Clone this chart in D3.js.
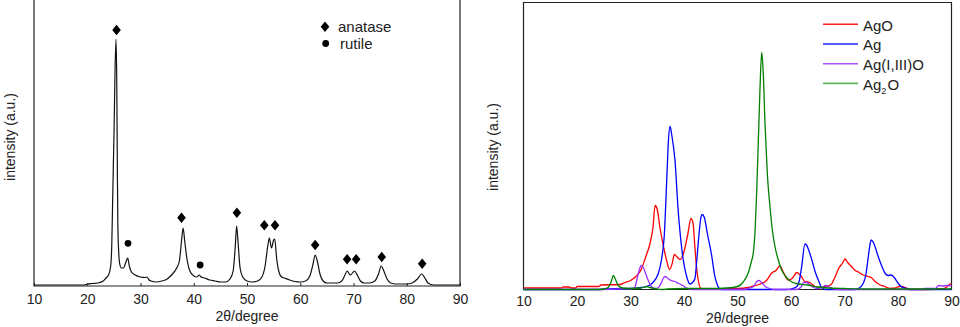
<!DOCTYPE html>
<html><head><meta charset="utf-8">
<script src="https://cdn.jsdelivr.net/npm/d3@7"></script>
<style>body{margin:0;background:#fff;} text{font-family:"Liberation Sans",Arial,sans-serif;fill:#222;}</style>
</head><body><svg id="c" width="960" height="327"></svg>
<script>
// ---------- data ----------
const xTicks = [10, 20, 30, 40, 50, 60, 70, 80, 90];
const xLabel = "2θ/degree";
const yLabel = "intensity (a.u.)";

// Left panel: TiO2 pattern [2θ, counts]
const tio2 = [[10,10],[15,10],[19.5,10],[20,20],[21,25],[22,30],[23,50],[23.5,80],[24,110],[24.4,200],[24.6,400],[24.75,800],[24.9,1200],[25.05,1600],[25.2,2100],[25.4,2467],[25.55,2000],[25.65,1200],[25.75,600],[25.9,350],[26.1,220],[26.4,180],[26.8,180],[27.2,230],[27.6,280],[27.9,200],[28.3,140],[29,110],[30,90],[30.8,85],[31.2,90],[31.6,60],[32,50],[33,40],[34,50],[35,70],[36,120],[36.8,180],[37.3,250],[37.7,450],[38,580],[38.3,450],[38.7,280],[39.2,160],[40,100],[40.6,90],[41,110],[41.4,90],[42,80],[43,60],[44,50],[45,40],[46,40],[46.8,70],[47.4,150],[47.8,400],[48.05,600],[48.3,450],[48.7,180],[49.2,90],[50,50],[51,40],[52,50],[52.8,90],[53.4,200],[53.9,400],[54.2,480],[54.6,380],[55,460],[55.2,470],[55.6,260],[56,140],[56.5,90],[57,80],[58,60],[59,45],[60,40],[61,50],[61.8,100],[62.4,220],[62.8,310],[63.2,250],[63.7,120],[64.3,50],[65,30],[66,30],[67,30],[67.8,50],[68.4,110],[68.8,150],[69.4,110],[70.2,150],[70.7,110],[71.3,50],[72,30],[73,30],[74,50],[74.7,120],[75.2,200],[75.7,150],[76.3,70],[77,30],[78,20],[80,20],[81,30],[82,70],[82.8,120],[83.4,80],[84,30],[85,10],[90,10]];
const anataseMarks = [[25.5,2560],[37.7,683],[48.1,733],[53.25,607],[55.26,607],[62.8,410],[68.8,267],[70.5,267],[75.3,290],[82.9,223]];
const rutileMarks = [[27.65,427],[41.2,210]];
const leftLegend = ["anatase", "rutile"];

// Right panel: silver oxide phases [2θ, counts]
const agO = [[10,15],[17,15],[17.5,25],[18.5,25],[19,15],[19.8,15],[20,30],[24,30],[24.5,45],[28,50],[29,70],[30,90],[31,130],[32,200],[32.8,320],[33.6,450],[34.2,620],[34.6,840],[35,800],[35.5,620],[36.2,420],[36.8,280],[37.3,200],[37.8,260],[38.2,350],[38.8,320],[39.3,300],[40,380],[40.7,550],[41.3,710],[41.7,660],[42,450],[42.3,250],[42.7,80],[43.2,10],[44,5],[50,10],[52,20],[52.7,30],[54,50],[55.5,95],[56.4,165],[57.2,190],[57.9,235],[58.6,170],[59.5,95],[60.2,110],[61.1,170],[61.8,140],[62.6,80],[63.5,70],[64.5,30],[65.5,20],[66.5,30],[67.5,50],[68.2,120],[69,220],[69.6,260],[70.1,305],[70.6,270],[71.3,230],[72,190],[72.6,175],[73.3,150],[74.4,130],[75,120],[75.7,80],[76.5,50],[77.5,30],[78.5,10],[79.5,15],[80.3,30],[80.7,30],[81.3,20],[81.8,10],[82.5,0],[88,5],[89,20],[89.6,50],[90,60]];
const ag = [[10,0],[24,0],[25,5],[30,10],[32,20],[33,30],[34,60],[35.2,160],[35.8,300],[36.3,530],[36.8,1130],[37.1,1500],[37.4,1630],[37.7,1550],[38.3,1300],[38.9,800],[39.6,400],[40.5,130],[41.1,55],[41.6,70],[42.05,110],[42.4,300],[42.8,550],[43.1,700],[43.4,750],[43.8,720],[44.4,550],[45.2,330],[45.7,150],[46.1,65],[46.6,10],[47,0],[59,0],[60.3,10],[61.1,30],[61.6,100],[62,230],[62.6,455],[62.9,445],[63.4,380],[63.9,295],[64.5,180],[65.1,95],[65.6,30],[66,10],[66.5,0],[72,0],[72.6,10],[73.5,60],[74,150],[74.45,330],[74.8,460],[75,495],[75.4,470],[76.3,330],[77,230],[77.6,160],[78.2,140],[78.7,145],[79.3,120],[80.05,60],[80.7,25],[81.3,15],[82,0],[90,0]];
const agIIIO = [[10,0],[25,0],[28,5],[30.5,10],[30.9,30],[31.2,100],[31.6,190],[32,240],[32.4,220],[32.9,150],[33.4,80],[33.9,30],[34.5,10],[35.2,20],[35.7,60],[36.1,110],[36.5,130],[37,110],[37.6,90],[38.3,80],[39,60],[39.8,40],[40.5,15],[41.5,0],[51,0],[52,10],[53,30],[53.6,80],[54,90],[54.5,70],[55.2,30],[56,10],[57,0],[61,0],[61.8,20],[62.4,70],[62.9,70],[63.5,50],[64.2,20],[65,10],[66,25],[66.4,40],[67.2,25],[68,5],[70,0],[84.5,0],[85,10],[87,10],[87.6,40],[88.3,35],[89.2,40],[90,40]];
const ag2O = [[10,0],[24,0],[25,5],[25.8,20],[26.4,80],[26.8,140],[27.2,100],[27.7,40],[28.5,15],[30,10],[32,15],[33,30],[33.6,20],[34.5,10],[36,0],[37,5],[40,10],[45,10],[48,15],[50,30],[51,70],[52,165],[52.6,280],[52.95,365],[53.3,600],[53.6,995],[53.9,1495],[54.2,2000],[54.52,2370],[54.82,2160],[55.14,1660],[55.57,1160],[56.07,830],[56.5,600],[57,430],[57.6,300],[58.26,195],[59,130],[60,80],[61,60],[63,45],[65,25],[67,15],[70,10],[75,5],[90,5]];
const seriesNames = ["AgO", "Ag", "Ag(I,III)O", "Ag2O"];
const seriesColors = ["#ff0000", "#0000ff", "#9b30ff", "#008000"];
const legendColors = ["#ff2020", "#2020ff", "#a855ff", "#5cb85c"];
const seriesData = [agO, ag, agIIIO, ag2O];

// ---------- drawing ----------
const svg = d3.select("#c");
const axisColor = "#222";

function panel(opt) {
  const x = d3.scaleLinear().domain([10, 90]).range([opt.x0, opt.x1]);
  const y = d3.scaleLinear().domain([0, opt.ymax]).range([opt.yb, opt.yt]);
  const g = svg.append("g");
  const ax = d3.axisBottom(x).tickValues(xTicks).tickSizeInner(opt.tick).tickSizeOuter(0)
    .tickPadding(opt.pad).tickFormat(d3.format("d"));
  const axg = g.append("g").attr("transform", `translate(0,${opt.yb})`).call(ax);
  axg.select(".domain").remove();
  axg.selectAll("line").attr("stroke", axisColor);
  axg.selectAll("text").attr("font-size", 14).attr("fill", "#222")
     .style("font-family", '"Liberation Sans",Arial,sans-serif');
  // frame
  g.append("path").attr("fill", "none").attr("stroke", axisColor).attr("stroke-width", 1.2)
    .attr("d", opt.top
      ? `M${opt.x0},${opt.yb}V${opt.yt}H${opt.x1}V${opt.yb}Z`
      : `M${opt.x0},0V${opt.yb}H${opt.x1}V0`);
  g.append("text").attr("x", (opt.x0 + opt.x1) / 2).attr("y", opt.xlabY)
    .attr("text-anchor", "middle").attr("font-size", 14).text(xLabel);
  g.append("text").attr("transform", `translate(${opt.ylabX},${opt.ylabY}) rotate(-90)`)
    .attr("text-anchor", "middle").attr("dominant-baseline", "central")
    .attr("font-size", 14).text(yLabel);
  return {x, y, g};
}

// Left panel
const L = panel({x0: 34, x1: 460, yb: 286, yt: 0, ymax: 2860, tick: -3, pad: 8.5,
  top: false, xlabY: 321, ylabX: 10, ylabY: 137});
const lineL = d3.line().x(d => L.x(d[0])).y(d => L.y(d[1])).curve(d3.curveMonotoneX);
L.g.append("path").datum(tio2).attr("d", lineL).attr("fill", "none")
  .attr("stroke", "#111").attr("stroke-width", 1.2);
const diamond = "M0,-5.3L4.3,0L0,5.3L-4.3,0Z";
L.g.selectAll(".dia").data(anataseMarks).join("path").attr("class", "dia")
  .attr("d", diamond).attr("transform", d => `translate(${L.x(d[0])},${L.y(d[1])})`).attr("fill", "#000");
L.g.selectAll(".cir").data(rutileMarks).join("circle").attr("class", "cir")
  .attr("cx", d => L.x(d[0])).attr("cy", d => L.y(d[1])).attr("r", 3.4).attr("fill", "#000");
// left legend
L.g.append("path").attr("d", diamond).attr("transform", "translate(325,26.7)").attr("fill", "#000");
L.g.append("circle").attr("cx", 325.7).attr("cy", 43.5).attr("r", 3.4).attr("fill", "#000");
L.g.append("text").attr("x", 338).attr("y", 32.3).attr("font-size", 15).text(leftLegend[0]);
L.g.append("text").attr("x", 340).attr("y", 49).attr("font-size", 15).text(leftLegend[1]);

// Right panel
const R = panel({x0: 523.5, x1: 951.5, yb: 289.5, yt: 2.5, ymax: 2870, tick: 0, pad: 6.5,
  top: true, xlabY: 322.5, ylabX: 493, ylabY: 147});
const lineR = d3.line().x(d => R.x(d[0])).y(d => R.y(d[1])).curve(d3.curveMonotoneX);
seriesData.forEach((s, i) => {
  R.g.append("path").datum(s).attr("d", lineR).attr("fill", "none")
    .attr("stroke", seriesColors[i]).attr("stroke-width", 1.3);
});
const leg = R.g.append("g");
seriesNames.forEach((n, i) => {
  const yy = 24.3 + i * 19.7;
  leg.append("line").attr("x1", 823).attr("x2", 858).attr("y1", yy).attr("y2", yy)
    .attr("stroke", legendColors[i]).attr("stroke-width", 1.6);
  const t = leg.append("text").attr("x", 863).attr("y", yy + 6.2).attr("font-size", 15);
  if (n === "Ag2O") {
    t.append("tspan").text("Ag");
    t.append("tspan").attr("font-size", 9).attr("dy", 4).text("2");
    t.append("tspan").attr("dy", -4).attr("dx", 1).text("O");
  } else t.text(n);
});
</script></body></html>
